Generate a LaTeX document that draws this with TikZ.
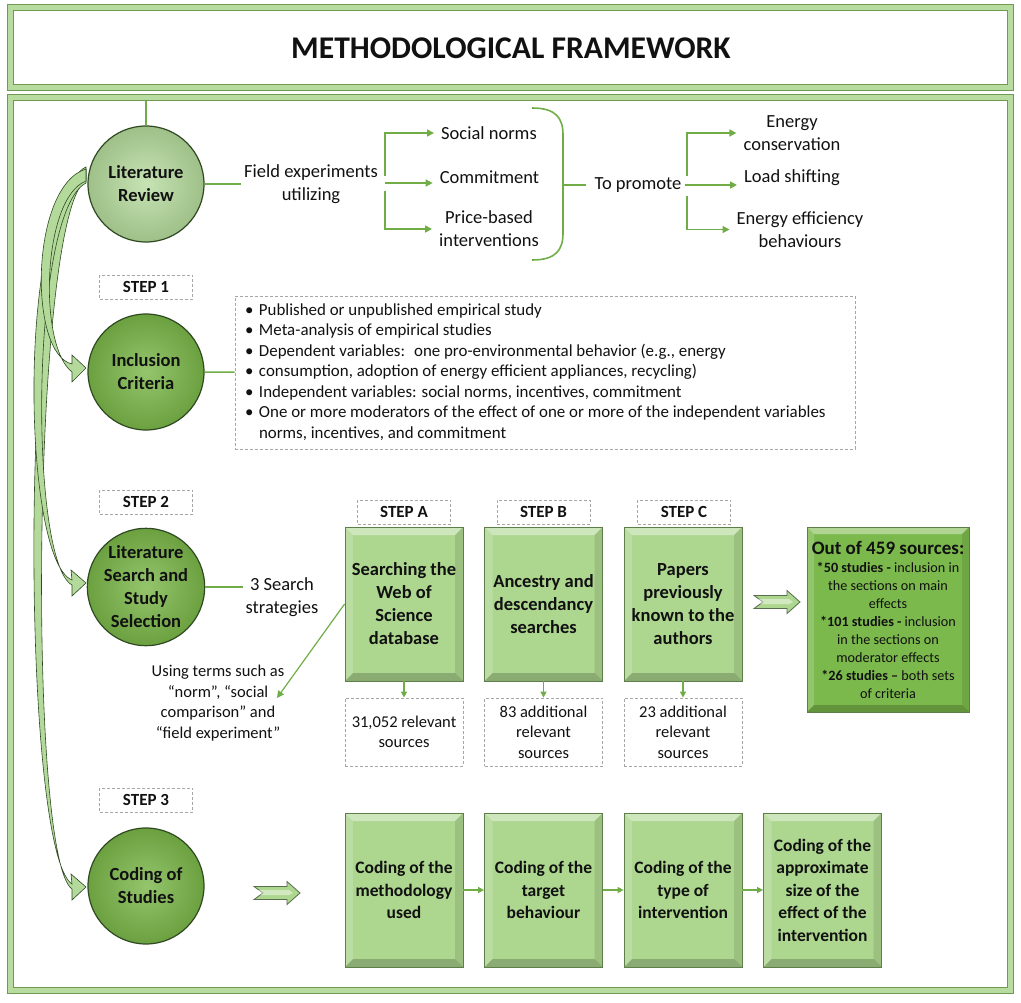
\documentclass[tikz,border=0pt]{standalone}
\usepackage{fontspec}
\setmainfont{Carlito}
\usetikzlibrary{arrows.meta,shapes.arrows,calc}
\definecolor{lg}{HTML}{70AD47}
\definecolor{boxfill}{HTML}{ADD68F}
\definecolor{boxedge}{HTML}{5E7F4A}
\definecolor{circmid}{HTML}{7AB648}
\definecolor{circlight}{HTML}{B4DA9B}
\definecolor{finalfill}{HTML}{7CB94C}
\definecolor{framedark}{HTML}{6E9A52}
\definecolor{framelight}{HTML}{B8DCA0}
\definecolor{txt}{HTML}{111111}
\definecolor{cdark}{HTML}{2F4A22}
\newcommand\ftitle{\fontsize{31.6}{36}\selectfont}
\newcommand\fmain{\fontsize{18.5}{23}\selectfont}
\newcommand\fbul{\fontsize{16.9}{20.5}\selectfont}
\newcommand\fres{\fontsize{16.5}{20.5}\selectfont}
\newcommand\flab{\fontsize{17}{18}\selectfont}
\newcommand\ffin{\fontsize{14.2}{18}\selectfont}
\newcommand\ffinA{\fontsize{19}{20}\selectfont}
\newcommand\fbot{\fontsize{17.5}{22.5}\selectfont}
\newcommand\bigarrowat[2]{%
  \begin{scope}[shift={(#1,#2)}]
    \draw[fill=boxfill, draw=cdark!80, line width=0.8pt] (-23,-6.5) -- (10,-6.5) -- (10,-11.5) -- (23,0) -- (10,11.5) -- (10,6.5) -- (-23,6.5) -- (-14,0) -- cycle;
    \fill[white, opacity=0.45] (-19,-3) -- (12,-3) -- (16,0) -- (12,2) -- (-17,2) -- (-15,0) -- cycle;
  \end{scope}}
\tikzset{
  frame/.style={draw=framedark, double=framelight, double distance=5pt, line width=1pt},
  line/.style={draw=lg, line width=1.6pt},
  arr/.style={line, -{Triangle[length=7pt,width=7pt]}, shorten >=4pt},
  arrs/.style={line, -{Triangle[length=6pt,width=6pt]}},
  tx/.style={font=\fmain, align=center, text=txt, inner sep=3pt},
  dbox/.style={draw=black!35, dash pattern=on 3pt off 2pt, line width=0.8pt, rectangle, inner sep=0pt, align=center, text=txt},
  steplab/.style={dbox, minimum width=93pt, minimum height=24pt, font=\flab\bfseries},
  resbox/.style={dbox, minimum width=118pt, minimum height=68pt, font=\fres},
  circ/.style={circle, minimum size=116pt, draw=cdark, line width=1.2pt, font=\fmain\bfseries, align=center, inner sep=0pt, text=txt},
  bevel/.style={path picture={
    \coordinate (pnw) at (path picture bounding box.north west);
    \coordinate (pne) at (path picture bounding box.north east);
    \coordinate (pse) at (path picture bounding box.south east);
    \coordinate (psw) at (path picture bounding box.south west);
    \fill[white,opacity=0.4] (pnw) -- (pne) -- ([shift={(-#1,#1)}]pne) -- ([shift={(#1,#1)}]pnw) -- cycle;
    \fill[white,opacity=0.18] (pnw) -- ([shift={(#1,#1)}]pnw) -- ([shift={(#1,-#1)}]psw) -- (psw) -- cycle;
    \fill[black,opacity=0.2] (psw) -- (pse) -- ([shift={(-#1,-#1)}]pse) -- ([shift={(#1,-#1)}]psw) -- cycle;
    \fill[black,opacity=0.1] (pne) -- (pse) -- ([shift={(-#1,-#1)}]pse) -- ([shift={(-#1,#1)}]pne) -- cycle;
  }},
  stepbox/.style={rectangle, minimum width=118pt, minimum height=154pt, fill=boxfill, draw=boxedge, line width=0.8pt, bevel=8, align=center, inner sep=0pt, font=\fmain\bfseries, text=txt},
  codebox/.style={stepbox, font=\fbot\bfseries},
  finalbox/.style={rectangle, minimum width=162pt, minimum height=185pt, fill=finalfill, draw=boxedge, line width=0.8pt, bevel=7, align=center, inner sep=0pt, font=\ffin, text=txt},
  carrow/.style={fill=circlight, draw=cdark, line width=0.6pt},
}
\begin{document}
\begin{tikzpicture}[x=1pt,y=-1pt]
\useasboundingbox (0,0) rectangle (1021,1003);
% frames
\draw[frame] (10,8) rectangle (1010,88);
\draw[frame] (10,98) rectangle (1010,990);
\node[font=\ftitle\bfseries, text=txt] (title) at (511,48) {METHODOLOGICAL FRAMEWORK};

% curved arrows
\draw[carrow] (86,167) .. controls (18,195) and (20,850) .. (72,884) -- (71,874) -- (86,887) -- (72,900) -- (72,889) .. controls (27,858) and (32,215) .. (86,180) -- cycle;
\draw[carrow] (86,170) .. controls (16,205) and (22,560) .. (72,580) -- (71,570) -- (86,583) -- (72,596) -- (72,585) .. controls (29,562) and (30,212) .. (86,183) -- cycle;
\draw[carrow] (86,169) .. controls (30,186) and (28,354) .. (72,364) -- (72,355) -- (86,368) -- (72,382) -- (72,372) .. controls (38,346) and (42,198) .. (86,181) -- cycle;

% circles
\node[circ, inner color=circlight!75!white, outer color=circlight!88!black] (lr) at (146,184) {Literature\\Review};
\node[circ, inner color=circmid!80!white, outer color=circmid!88!black] (ic) at (146,372) {Inclusion\\Criteria};
\node[circ, inner color=circmid!80!white, outer color=circmid!88!black] (lss) at (146,587) {Literature\\Search and\\Study\\Selection};
\node[circ, inner color=circmid!80!white, outer color=circmid!88!black] (cs) at (146,886) {Coding of\\Studies};
\coordinate (mtop) at (146,101);
\draw[line] (lr) -- (mtop);

% step labels
\node[steplab] (s1) at (146,287) {STEP 1};
\node[steplab] (s2) at (146,502) {STEP 2};
\node[steplab] (s3) at (146,800) {STEP 3};

% top row
\node[tx] (fe) at (311,184.5) {Field experiments\\utilizing};
\draw[line] (lr.east) -- (lr.east -| fe.west);
\coordinate (fork) at (385,183);
\node[tx] (sn) at (489,133) {Social norms};
\node[tx] (cm) at (489.5,177) {Commitment};
\node[tx] (pb) at (489,229) {Price-based\\interventions};
\draw[arr] ($(fork)+(0,-7)$) |- (sn.west);
\draw[arr] (fork) -- (fork -| cm.west);
\draw[arr] ($(fork)+(0,8)$) |- (pb.west);
\coordinate (brt) at (532,108);
\coordinate (brb) at (532,260);
\coordinate (brm) at (563,185);
\draw[line] (brt) .. controls (556,108) and (563,118) .. (563,135) -- (563,233) .. controls (563,250) and (556,260) .. (brb);
\node[tx] (tp) at (638,185) {To promote};
\draw[line, line width=2.6pt] (brm) -- ([xshift=-5pt]tp.west);
\node[tx] (ec) at (792,133) {Energy\\conservation};
\node[tx] (lsf) at (792,178) {Load shifting};
\node[tx] (ee) at (800,229.5) {Energy efficiency\\behaviours};
\coordinate (fork2) at (687,186);
\draw[arr] ($(fork2)+(0,-10)$) |- (ec.west);
\draw[arr] (tp.east) -- (tp.east -| lsf.west);
\draw[arr] ($(fork2)+(0,10)$) |- (ee.west);

% inclusion criteria
\node[dbox, minimum width=620pt, minimum height=153pt] (icb) at (545,372.5) {\fbul
\begin{tabular}{@{}p{14pt}@{}p{586pt}@{}}
\textbullet & Published or unpublished empirical study\\
\textbullet & Meta-analysis of empirical studies\\
\textbullet & Dependent variables:\hspace{9pt}one pro-environmental behavior (e.g., energy\\
\textbullet & consumption, adoption of energy efficient appliances, recycling)\\
\textbullet & Independent variables:\hspace{5pt}social norms, incentives, commitment\\
\textbullet & One or more moderators of the effect of one or more of the independent variables\\
 & norms, incentives, and commitment
\end{tabular}};
\draw[line] (ic) -- (icb);

% step 2 row
\node[tx] (ss) at (282,597.5) {3 Search\\strategies};
\draw[line] (lss.east) -- (lss.east -| ss.west);
\node[steplab] (la) at (404,512) {STEP A};
\node[steplab] (lb) at (543.5,512) {STEP B};
\node[steplab] (lc) at (684,512) {STEP C};
\node[stepbox] (ba) at (404,604) {Searching the\\Web of\\Science\\database};
\node[stepbox] (bb) at (543.5,604) {Ancestry and\\descendancy\\searches};
\node[stepbox] (bc) at (683,604) {Papers\\previously\\known to the\\authors};
\node[resbox] (ra) at (404,732) {31,052 relevant\\sources};
\node[resbox] (rb) at (543.5,732) {83 additional\\relevant\\sources};
\node[resbox] (rc) at (683,732) {23 additional\\relevant\\sources};
\draw[arrs] (ba) -- (ra);
\draw[arrs] (bb) -- (rb);
\draw[arrs] (bc) -- (rc);
\node[tx, font=\fres] (ut) at (218,703) {Using terms such as\\“norm”, “social\\comparison” and\\“field experiment”};
\coordinate (utt) at (277,698);
\draw[line, line width=1.2pt, -{Triangle[length=7pt,width=7pt]}] (ba.west) -- (utt);
\bigarrowat{777}{602}
\node[finalbox] (fin) at (888,619.5) {{\ffinA\bfseries Out of 459 sources:}\\
\textbf{*50 studies -} inclusion in\\the sections on main\\effects\\
\textbf{*101 studies -} inclusion\\in the sections on\\moderator effects\\
\textbf{*26 studies –} both sets\\of criteria};

% step 3 row
\bigarrowat{277}{893}
\node[codebox] (c1) at (404,890) {Coding of the\\methodology\\used};
\node[codebox] (c2) at (543.5,890) {Coding of the\\target\\behaviour};
\node[codebox] (c3) at (683,890) {Coding of the\\type of\\intervention};
\node[codebox] (c4) at (822.5,890) {Coding of the\\approximate\\size of the\\effect of the\\intervention};
\draw[arrs] (c1) -- (c2);
\draw[arrs] (c2) -- (c3);
\draw[arrs] (c3) -- (c4);
\end{tikzpicture}
\end{document}
